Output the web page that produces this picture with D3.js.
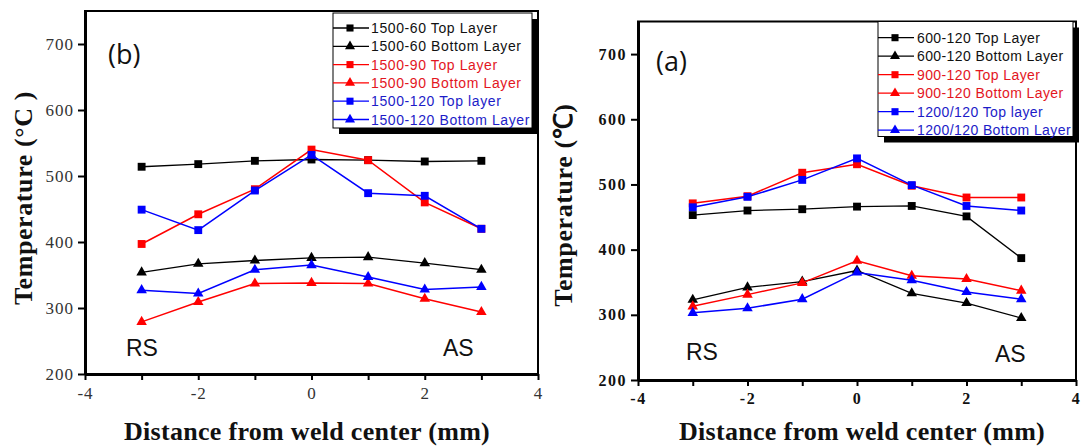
<!DOCTYPE html>
<html>
<head lang="en">
    <meta charset="UTF-8">
    <title></title>
    <script src="https://cdn.jsdelivr.net/npm/d3@7"></script>
    <style>
        body{margin:0;background:#fff;}
        .tick line{stroke:#000;stroke-width:2px;}
        .title{font-family:"Liberation Serif",serif;font-weight:bold;fill:#111;}
        .side{font-family:"Liberation Sans",Arial,sans-serif;font-size:23px;fill:#111;}
        .tag{font-family:"Open Sans",sans-serif;font-size:27px;fill:#111;}
        .leg{font-family:"Liberation Sans",Arial,sans-serif;font-size:14px;}
    </style>
</head>
<body>
<script>
    // 横坐标：距焊缝中心距离
    var xVals=[-3,-2,-1,0,1,2,3];
    var xTicks=[-4,-3,-2,-1,0,1,2,3,4];
    var yTicks=[200,300,400,500,600,700];

    // (b) 1500 rpm
    var b60Top=[514,518,523,525,524,522,523];
    var b60Bot=[354,367,372,376,377,368,358];
    var b90Top=[397,442,480,540,524,460,420];
    var b90Bot=[279,309,337,338,337,314,294];
    var b120Top=[449,418,478,532,474,470,420];
    var b120Bot=[327,322,358,365,347,328,332];
    var bNames=["1500-60 Top Layer","1500-60 Bottom Layer","1500-90 Top Layer",
        "1500-90 Bottom Layer","1500-120 Top layer","1500-120 Bottom Layer"];

    // (a) 120 mm/min
    var a600Top=[453,460,462,466,467,451,387];
    var a600Bot=[323,342,351,368,333,318,295];
    var a900Top=[471,482,518,531,498,480,480];
    var a900Bot=[313,331,349,383,360,355,337];
    var a1200Top=[465,481,507,540,499,467,460];
    var a1200Bot=[303,310,324,365,353,335,324];
    var aNames=["600-120 Top Layer","600-120 Bottom Layer","900-120 Top Layer",
        "900-120 Bottom Layer","1200/120 Top layer","1200/120 Bottom Layer"];

    var lineCol=["#000","#000","#f00","#f00","#00f","#00f"];
    var textCol=["#111","#111","#e3161e","#e3161e","#1c1cc8","#1c1cc8"];
    var shapes=["sq","tri","sq","tri","sq","tri"];

    var svg=d3.select("body").append("svg")
            .attr("width",1082)
            .attr("height",446);

    function panel(o){
        var x=d3.scaleLinear().domain([-4,4]).range([o.x0,o.x1]);
        var y=d3.scaleLinear().domain([200,750]).range([o.y0,o.y1]);
        var g=svg.append("g");

        //边框
        g.append("rect")
                .attr("x",o.x0).attr("y",o.y1)
                .attr("width",o.x1-o.x0).attr("height",o.y0-o.y1)
                .attr("fill","none").attr("stroke","#000").attr("stroke-width",2);

        var ax=g.append("g")
                .attr("transform","translate(0,"+o.y0+")")
                .call(d3.axisBottom(x).tickValues(xTicks).tickSize(6).tickSizeOuter(0).tickPadding(7)
                        .tickFormat(function(d){return d%2==0?d:"";}));
        var ay=g.append("g")
                .attr("transform","translate("+o.x0+",0)")
                .call(d3.axisLeft(y).tickValues(yTicks).tickSize(7).tickSizeOuter(0).tickPadding(4));
        [ax,ay].forEach(function(a){
            a.select(".domain").attr("stroke-width",3);
            a.selectAll("text")
                    .style("font-family","'Liberation Serif',serif")
                    .style("font-size",o.tickFont+"px")
                    .style("font-weight",o.tickBold?"bold":"normal")
                    .style("letter-spacing",o.tickLs+"px")
                    .attr("fill",o.tickBold?"#111":"#333");
        });

        //曲线
        var line=d3.line().x(function(d,i){return x(xVals[i]);}).y(function(d){return y(d);});
        o.series.forEach(function(s,k){
            g.append("path").datum(s)
                    .attr("d",line)
                    .attr("fill","none")
                    .attr("stroke",lineCol[k])
                    .attr("stroke-width",k<2?1.3:1.5);
            g.selectAll(null).data(s).enter()
                    .append("path")
                    .attr("transform",function(d,i){return "translate("+x(xVals[i])+","+y(d)+")";})
                    .attr("d",d3.symbol().type(shapes[k]=="sq"?d3.symbolSquare:d3.symbolTriangle)
                            .size(shapes[k]=="sq"?62:48))
                    .attr("fill",lineCol[k]);
        });

        //图例
        var L=o.leg;
        g.append("rect").attr("x",L.x+6).attr("y",L.y+6)
                .attr("width",L.w).attr("height",L.h).attr("fill","#000");
        g.append("rect").attr("x",L.x).attr("y",L.y)
                .attr("width",L.w).attr("height",L.h)
                .attr("fill","#fff").attr("stroke","#000").attr("stroke-width",1);
        var row=g.selectAll(".lr").data(o.names).enter().append("g")
                .attr("transform",function(d,i){return "translate("+L.x+","+(L.r0+i*L.dr)+")";});
        row.append("line").attr("x1",0).attr("x2",36)
                .attr("stroke",function(d,i){return lineCol[i];}).attr("stroke-width",1.3);
        row.append("path")
                .attr("transform","translate(17,0)")
                .attr("d",function(d,i){
                    return d3.symbol().type(shapes[i]=="sq"?d3.symbolSquare:d3.symbolTriangle)
                            .size(shapes[i]=="sq"?50:44)();
                })
                .attr("fill",function(d,i){return lineCol[i];});
        row.append("text").attr("class","leg")
                .attr("x",L.tx).attr("y",5)
                .attr("fill",function(d,i){return textCol[i];})
                .style("letter-spacing",L.ls+"px")
                .text(function(d){return d;});

        //文字
        g.append("text").attr("class","tag").attr("x",o.tag[0]).attr("y",o.tag[1]).text(o.tagText);
        g.append("text").attr("class","side").attr("x",o.rs[0]).attr("y",o.rs[1]).text("RS");
        g.append("text").attr("class","side").attr("x",o.as[0]).attr("y",o.as[1]).text("AS");
        g.append("text").attr("class","title")
                .attr("x",o.xt[0]).attr("y",o.xt[1])
                .style("font-size","26px").style("letter-spacing","0.3px")
                .attr("text-anchor","middle")
                .text("Distance from weld center  (mm)");
        g.append("text").attr("class","title")
                .attr("transform","translate("+o.yt[0]+","+o.yt[1]+") rotate(-90)")
                .style("font-size","26px").style("letter-spacing","0.6px")
                .attr("text-anchor","middle")
                .text(o.ytText);
    }

    panel({x0:85,x1:538,y0:374,y1:11,tickFont:17,tickBold:false,tickLs:1,
        series:[b60Top,b60Bot,b90Top,b90Bot,b120Top,b120Bot],names:bNames,
        leg:{x:333,y:13,w:199,h:115,r0:28,dr:18.3,tx:38,ls:0.6},
        tag:[108,64],tagText:"(b)",rs:[126,356],as:[443,356],
        xt:[307,440],yt:[32,198],ytText:"Temperature (°C )"});

    panel({x0:638,x1:1076,y0:380,y1:21.5,tickFont:16,tickBold:true,tickLs:1.5,
        series:[a600Top,a600Bot,a900Top,a900Bot,a1200Top,a1200Bot],names:aNames,
        leg:{x:878,y:21.5,w:195,h:115,r0:37.7,dr:18.5,tx:39,ls:0.4},
        tag:[656,71],tagText:"(a)",rs:[686,360],as:[995,362],
        xt:[862,440],yt:[572,205],ytText:"Temperature (℃)"});
</script>
</body>
</html>
